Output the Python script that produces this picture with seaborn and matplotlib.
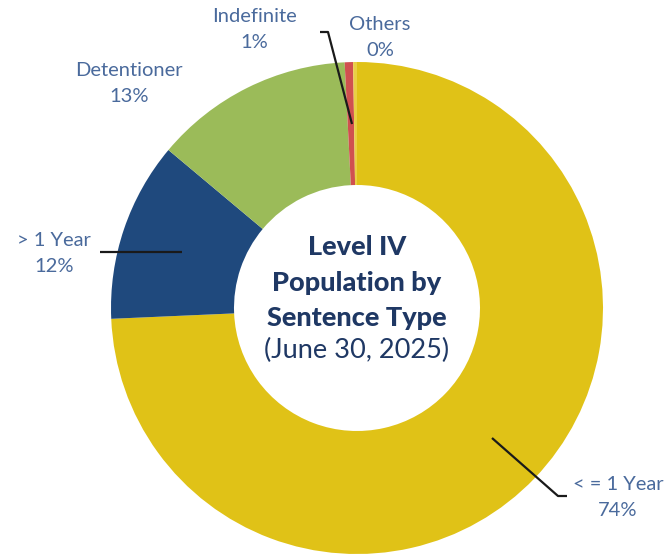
import matplotlib
matplotlib.use("Agg")
import matplotlib.pyplot as plt
import seaborn as sns

categories = ["< = 1 Year", "> 1 Year", "Detentioner", "Indefinite", "Others"]
values = [74.3, 11.8, 13.1, 0.55, 0.25]
pct_labels = ["74%", "12%", "13%", "1%", "0%"]
colors = ["#E0C217", "#1F497D", "#9BBB59", "#D0504F", "#E9CF45"]

sns.set_theme(style="white")
plt.rcParams['font.family'] = ['Lato', 'DejaVu Sans']

W, H = 672, 556
fig = plt.figure(figsize=(W / 100, H / 100), dpi=100)
ax = fig.add_axes([0, 0, 1, 1])

cx, cy, R = 357, H - 308, 246
ax.pie(values, colors=colors, startangle=90, counterclock=False,
       center=(cx, cy), radius=R, frame=True,
       wedgeprops=dict(width=R * 0.5, linewidth=0))
ax.set_xlim(0, W)
ax.set_ylim(0, H)
ax.set_aspect("equal")
ax.axis("off")

lab_color = "#4A6A9C"
fs = 14.5
label_pos = {
    "< = 1 Year": (618, 484),
    "> 1 Year": (54, 240),
    "Detentioner": (129, 71),
    "Indefinite": (254, 17),
    "Others": (380, 24),
}
for cat, pct in zip(categories, pct_labels):
    x, y = label_pos[cat]
    ax.text(x, H - y, cat, ha="center", va="center", fontsize=fs, color=lab_color)
    ax.text(x, H - y - 26, pct, ha="center", va="center", fontsize=fs, color=lab_color)

# leader lines
lk = dict(color="#1a1a1a", lw=1.6, solid_capstyle="butt")
ax.plot([100, 182], [H - 252, H - 252], **lk)
ax.plot([492, 558, 567], [H - 438, H - 496, H - 496], **lk)
ax.plot([320, 328, 352], [H - 32, H - 32, H - 124], **lk)

title_color = "#1F3864"
tfs = 19.5
ax.text(cx, H - 247, "Level IV", ha="center", va="center", fontsize=tfs,
        fontweight="black", color=title_color)
ax.text(cx, H - 283, "Population by", ha="center", va="center", fontsize=tfs,
        fontweight="black", color=title_color)
ax.text(cx, H - 318, "Sentence Type", ha="center", va="center", fontsize=tfs,
        fontweight="black", color=title_color)
ax.text(cx, H - 350, "(June 30, 2025)", ha="center", va="center", fontsize=tfs,
        color=title_color)

fig.savefig("out.png", dpi=100)
